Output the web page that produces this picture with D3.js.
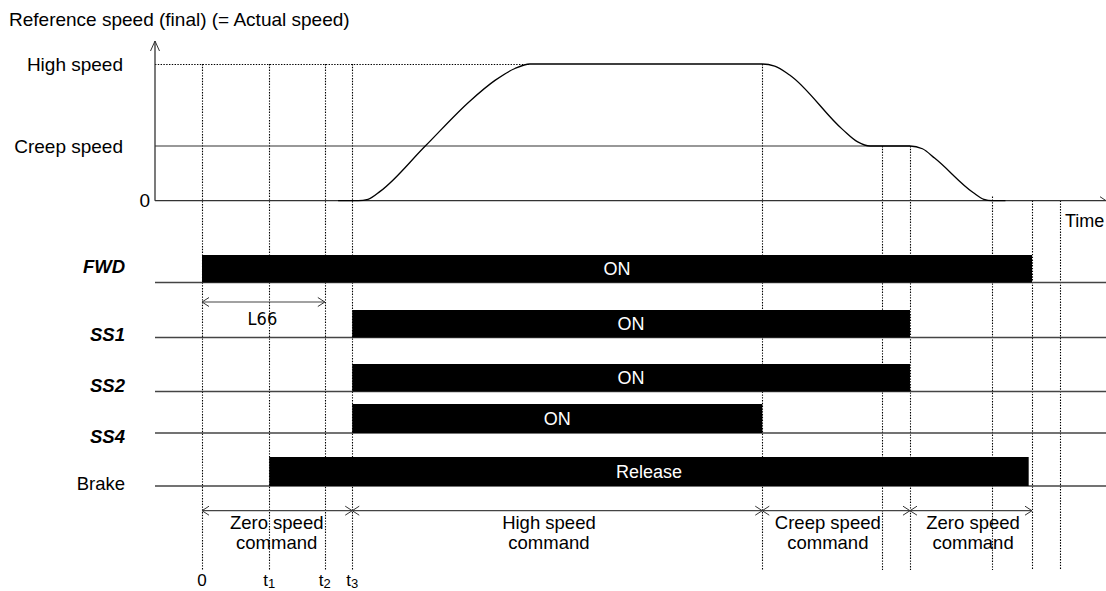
<!DOCTYPE html>
<html>
<head>
<meta charset="utf-8">
<script src="https://cdn.jsdelivr.net/npm/d3@7"></script>
<style>
  html, body { margin: 0; padding: 0; background: #fff; }
  svg { display: block; }
  text { font-family: "Liberation Sans", Arial, sans-serif; fill: #000; }
</style>
</head>
<body>
<svg id="chart" width="1106" height="591"></svg>
<script>
// ---------------- DATA ----------------
// time in arbitrary units (0 = FWD on, 1000 = FWD off)
const eventNames     = ["0", "t1", "t2", "t3", "e4", "e5", "e6", "e7", "e8", "e9"];
const eventTimes     = [0, 81, 148, 181, 675, 819, 853, 952, 1000, 1034];
const eventTopSpeed  = [100, 100, 100, 100, 100, 40, 40, 3, 0, 0];

const tickLabels     = ["0", "t1", "t2", "t3"];
const tickTimes      = [0, 81, 148, 181];

const speedLevelNames  = ["0", "Creep speed", "High speed"];
const speedLevelValues = [0, 40, 100];

// speed profile (time, % of high speed)
const speedTimes  = [164, 188, 200, 215, 269, 323, 353, 377, 395, 675, 690, 708, 772, 790, 805, 853, 868, 883, 929, 942, 952, 968];
const speedValues = [0, 0, 1, 7, 40, 73, 88, 96.7, 100, 100, 98.5, 92, 52, 43, 40, 40, 38, 31, 6, 1, 0, 0];

const signals     = ["FWD", "SS1", "SS2", "SS4", "Brake"];
const signalOn    = [0, 181, 181, 181, 81];
const signalOff   = [1000, 853, 853, 675, 996];
const signalText  = ["ON", "ON", "ON", "ON", "Release"];

const commandLine1 = ["Zero speed", "High speed", "Creep speed", "Zero speed"];
const commandLine2 = ["command", "command", "command", "command"];
const commandStart = [0, 181, 675, 853];
const commandEnd   = [181, 675, 853, 1000];
const commandLabelAt = [90, 418, 754, 929];

const l66Start = 0, l66End = 148, l66Label = "L66";

// ---------------- LAYOUT ----------------
const W = 1106, H = 591;
const axisLeft = 155, axisRight = 1106;
const FS = 19;
const svg = d3.select("#chart");

const x = d3.scaleLinear().domain([0, 1000]).range([202, 1032]);
const y = d3.scaleLinear().domain([0, 100]).range([200.7, 64]);

const rowBase  = d3.scaleOrdinal().domain(signals).range([282.5, 337.5, 391.5, 433, 486]);
const rowTop   = d3.scaleOrdinal().domain(signals).range([255, 310, 364, 404, 457]);
const rowLabel = d3.scaleOrdinal().domain(signals).range([273, 341, 392, 443, 490]);

const guideBottom = 570;
const dotted = "1.4,1.4";

// ---------- dotted vertical guides ----------
svg.append("g").selectAll("line")
  .data(eventTimes.map((t, i) => ({t, s: eventTopSpeed[i]})))
  .join("line")
  .attr("x1", d => Math.round(x(d.t)) + 0.5).attr("x2", d => Math.round(x(d.t)) + 0.5)
  .attr("y1", d => y(d.s)).attr("y2", guideBottom)
  .attr("stroke", "#000").attr("stroke-width", 1.1).attr("stroke-dasharray", dotted);

// dotted horizontal at high speed
svg.append("line")
  .attr("x1", axisLeft).attr("x2", x(speedTimes[8]))
  .attr("y1", Math.round(y(100)) + 0.5).attr("y2", Math.round(y(100)) + 0.5)
  .attr("stroke", "#000").attr("stroke-dasharray", dotted);

// creep speed solid line
svg.append("line")
  .attr("x1", axisLeft).attr("x2", x(signalOff[1]))
  .attr("y1", y(40)).attr("y2", y(40))
  .attr("stroke", "#333").attr("stroke-width", 1.2);

// axes
svg.append("line").attr("x1", axisLeft).attr("x2", axisLeft)
  .attr("y1", y(0)).attr("y2", 41).attr("stroke", "#333").attr("stroke-width", 1.3);
svg.append("path").attr("d", `M${axisLeft - 4.5},51 L${axisLeft},41 L${axisLeft + 4.5},51`)
  .attr("fill", "none").attr("stroke", "#333").attr("stroke-width", 1);
svg.append("line").attr("x1", axisLeft).attr("x2", axisRight)
  .attr("y1", y(0)).attr("y2", y(0)).attr("stroke", "#333").attr("stroke-width", 1.3);
svg.append("path").attr("d", `M${axisRight - 6},${y(0) - 4} L${axisRight},${y(0)}`)
  .attr("fill", "none").attr("stroke", "#333").attr("stroke-width", 1);

// speed curve
const line = d3.line().x(d => x(d[0])).y(d => y(d[1])).curve(d3.curveMonotoneX);
svg.append("path")
  .attr("d", line(speedTimes.map((t, i) => [t, speedValues[i]])))
  .attr("fill", "none").attr("stroke", "#000").attr("stroke-width", 1.3);

// title & level labels
svg.append("text").attr("x", 9).attr("y", 26).attr("font-size", FS)
  .text("Reference speed (final) (= Actual speed)");
svg.append("g").selectAll("text")
  .data(speedLevelNames.map((n, i) => ({n, v: speedLevelValues[i]})))
  .join("text")
  .attr("x", d => d.n === "0" ? 150 : 123)
  .attr("y", d => y(d.v) + 6.5)
  .attr("text-anchor", "end").attr("font-size", FS)
  .text(d => d.n);
svg.append("text").attr("x", 1065).attr("y", 226.5).attr("font-size", 18).text("Time");

// ---------- signal rows ----------
const rows = signals.map((s, i) => ({s, on: signalOn[i], off: signalOff[i], txt: signalText[i]}));
const rg = svg.append("g");
rg.selectAll("line.base").data(rows).join("line")
  .attr("x1", axisLeft).attr("x2", axisRight)
  .attr("y1", d => rowBase(d.s)).attr("y2", d => rowBase(d.s))
  .attr("stroke", "#444").attr("stroke-width", 1.3);
rg.selectAll("rect").data(rows).join("rect")
  .attr("x", d => x(d.on)).attr("width", d => x(d.off) - x(d.on))
  .attr("y", d => rowTop(d.s)).attr("height", d => rowBase(d.s) - rowTop(d.s))
  .attr("fill", "#000");
rg.selectAll("text.on").data(rows).join("text")
  .attr("x", d => (x(d.on) + x(d.off)) / 2)
  .attr("y", d => (rowTop(d.s) + rowBase(d.s)) / 2 + 6.5)
  .attr("text-anchor", "middle").attr("font-size", 18)
  .style("fill", "#fff").text(d => d.txt);
rg.selectAll("text.lab").data(rows).join("text")
  .attr("x", 125).attr("y", d => rowLabel(d.s))
  .attr("text-anchor", "end").attr("font-size", 18.5)
  .attr("font-weight", d => d.s === "Brake" ? "normal" : "bold")
  .attr("font-style", d => d.s === "Brake" ? "normal" : "italic")
  .text(d => d.s);

// ---------- arrows helpers ----------
function chevron(g, px, py, dir) { // dir -1 points left, +1 points right
  g.append("path")
    .attr("d", `M${px - dir * 7},${py - 4.5} L${px},${py} L${px - dir * 7},${py + 4.5}`)
    .attr("fill", "none").attr("stroke", "#333").attr("stroke-width", 1);
}

// L66
const lg = svg.append("g");
const l66y = 302;
lg.append("line").attr("x1", x(l66Start)).attr("x2", x(l66End))
  .attr("y1", l66y).attr("y2", l66y).attr("stroke", "#444").attr("stroke-width", 1.2);
chevron(lg, x(l66Start), l66y, -1);
chevron(lg, x(l66End), l66y, 1);
lg.append("text").attr("x", x((l66Start + l66End) / 2) - 1).attr("y", 325)
  .attr("text-anchor", "middle").attr("font-size", 18)
  .style("font-family", '"DejaVu Sans Condensed","Liberation Sans Narrow",sans-serif')
  .style("font-stretch", "condensed")
  .text(l66Label);

// command arrows
const cg = svg.append("g");
const cy = 510.7;
commandStart.forEach((s, i) => {
  const e = commandEnd[i];
  cg.append("line").attr("x1", x(s)).attr("x2", x(e)).attr("y1", cy).attr("y2", cy)
    .attr("stroke", "#444").attr("stroke-width", 1.2);
  chevron(cg, x(s), cy, -1);
  chevron(cg, x(e), cy, 1);
  cg.append("text").attr("x", x(commandLabelAt[i])).attr("y", 529)
    .attr("text-anchor", "middle").attr("font-size", 18.5).text(commandLine1[i]);
  cg.append("text").attr("x", x(commandLabelAt[i])).attr("y", 549)
    .attr("text-anchor", "middle").attr("font-size", 18.5).text(commandLine2[i]);
});

// tick labels
const tg = svg.append("g");
tickLabels.forEach((lab, i) => {
  const t = tg.append("text").attr("x", x(tickTimes[i])).attr("y", 586)
    .attr("text-anchor", "middle").attr("font-size", 17);
  if (lab.length > 1) {
    t.append("tspan").text(lab[0]);
    t.append("tspan").attr("font-size", 13).attr("dy", 2).text(lab.slice(1));
  } else {
    t.text(lab);
  }
});
</script>
</body>
</html>
